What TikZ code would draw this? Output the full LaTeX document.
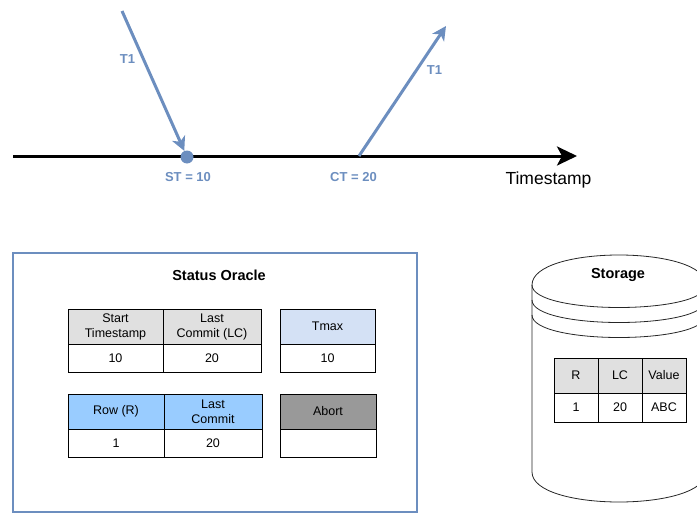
\documentclass[tikz,border=0pt]{standalone}
\usepackage{fontspec}
\setmainfont{Liberation Sans}
\usetikzlibrary{arrows.meta}
\definecolor{edgeblue}{HTML}{6C8EBF}
\definecolor{hdrgrey}{HTML}{E0E0E0}
\definecolor{tmaxfill}{HTML}{D4E1F5}
\definecolor{rowfill}{HTML}{99CCFF}
\definecolor{abortfill}{HTML}{999999}
\begin{document}
\begin{tikzpicture}[x=1pt,y=-1pt,
  cell/.style={draw=black, line width=0.9pt, inner sep=0pt, align=center,
    font=\fontsize{12.5}{15}\selectfont},
  cellh/.style={cell, minimum height=35},
  cellv/.style={cell, minimum height=28},
  bluelbl/.style={text=edgeblue, font=\fontsize{13}{15}\selectfont\bfseries, inner sep=0pt},
  bluearrow/.style={draw=edgeblue, line width=3pt,
    -{Stealth[length=14pt, width=14pt, inset=4pt]}},
  titlelbl/.style={font=\fontsize{14.5}{17}\selectfont\bfseries, inner sep=0pt}]
\useasboundingbox (0,0) rectangle (697,514);

% timeline
\coordinate (tl0) at (13,156);
\coordinate (tl1) at (577,156);
\draw[line width=3pt, -{Stealth[length=20pt, width=19pt, inset=5pt]}] (tl0) -- (tl1);
\node[font=\fontsize{17.5}{20}\selectfont, inner sep=0pt] (ts) at (548.5,180) {Timestamp};

% start point and incoming T1
\node[circle, fill=edgeblue, minimum size=13, inner sep=0pt] (st) at (187,157) {};
\coordinate (t1a) at (122,11);
\draw[bluearrow] (t1a) -- (st);
\node[bluelbl] (t1alabel) at (127.5,59) {T1};
\node[bluelbl] (stlabel) at (188,177.5) {ST = 10};

% commit point and outgoing T1
\coordinate (ct) at (359,156);
\coordinate (t1b) at (446,26);
\draw[bluearrow] (ct) -- (t1b);
\node[bluelbl] (t1blabel) at (434.5,70) {T1};
\node[bluelbl] (ctlabel) at (353.5,177.5) {CT = 20};

% status oracle
\node[draw=edgeblue, line width=2pt, minimum width=404, minimum height=259, inner sep=0pt] (oracle) at (215,382.5) {};
\node[titlelbl] (oracletitle) at (219,275) {Status Oracle};

\node[cellh, fill=hdrgrey, minimum width=95] (sthdr) at (115.5,326.5) {Start\\Timestamp};
\node[cellh, fill=hdrgrey, minimum width=98] (lchdr) at (212,326.5) {Last\\Commit (LC)};
\node[cellv, minimum width=95] (stval) at (115.5,358) {10};
\node[cellv, minimum width=98] (lcval) at (212,358) {20};

\node[cellh, fill=tmaxfill, minimum width=95] (tmaxhdr) at (327.5,326.5) {Tmax};
\node[cellv, minimum width=95] (tmaxval) at (327.5,358) {10};

\node[cellh, fill=rowfill, minimum width=96] (rowhdr) at (116,411.5) {Row (R)};
\node[cellh, fill=rowfill, minimum width=98] (lastchdr) at (213,411.5) {Last\\Commit};
\node[cellv, minimum width=96] (rowval) at (116,443) {1};
\node[cellv, minimum width=98] (lastcval) at (213,443) {20};

\node[cellh, fill=abortfill, minimum width=96] (aborthdr) at (328,411.5) {Abort};
\node[cellv, minimum width=96] (abortval) at (328,443) {};

% storage cylinder
\begin{scope}
\clip (0,0) rectangle (697,514);
\draw[line width=0.8pt, draw=black!85]
  (532,285) .. controls (532,245) and (706,245) .. (706,285)
  -- (706,472) .. controls (706,512) and (532,512) .. (532,472) -- cycle;
\draw[line width=0.8pt, draw=black!85]
  (532,285) .. controls (532,315) and (706,315) .. (706,285)
  (532,300) .. controls (532,330) and (706,330) .. (706,300)
  (532,315) .. controls (532,345) and (706,345) .. (706,315);
\end{scope}
\node[titlelbl] (storagetitle) at (618,275) {Storage};

\node[cellh, fill=hdrgrey, minimum width=44] (rhdr) at (576,375.5) {R};
\node[cellh, fill=hdrgrey, minimum width=44] (lcshdr) at (620,375.5) {LC};
\node[cellh, fill=hdrgrey, minimum width=44] (valhdr) at (664,375.5) {Value};
\node[cell, minimum height=29, minimum width=44] (rval) at (576,407.5) {1};
\node[cell, minimum height=29, minimum width=44] (lcsval) at (620,407.5) {20};
\node[cell, minimum height=29, minimum width=44] (valval) at (664,407.5) {ABC};
\end{tikzpicture}
\end{document}
